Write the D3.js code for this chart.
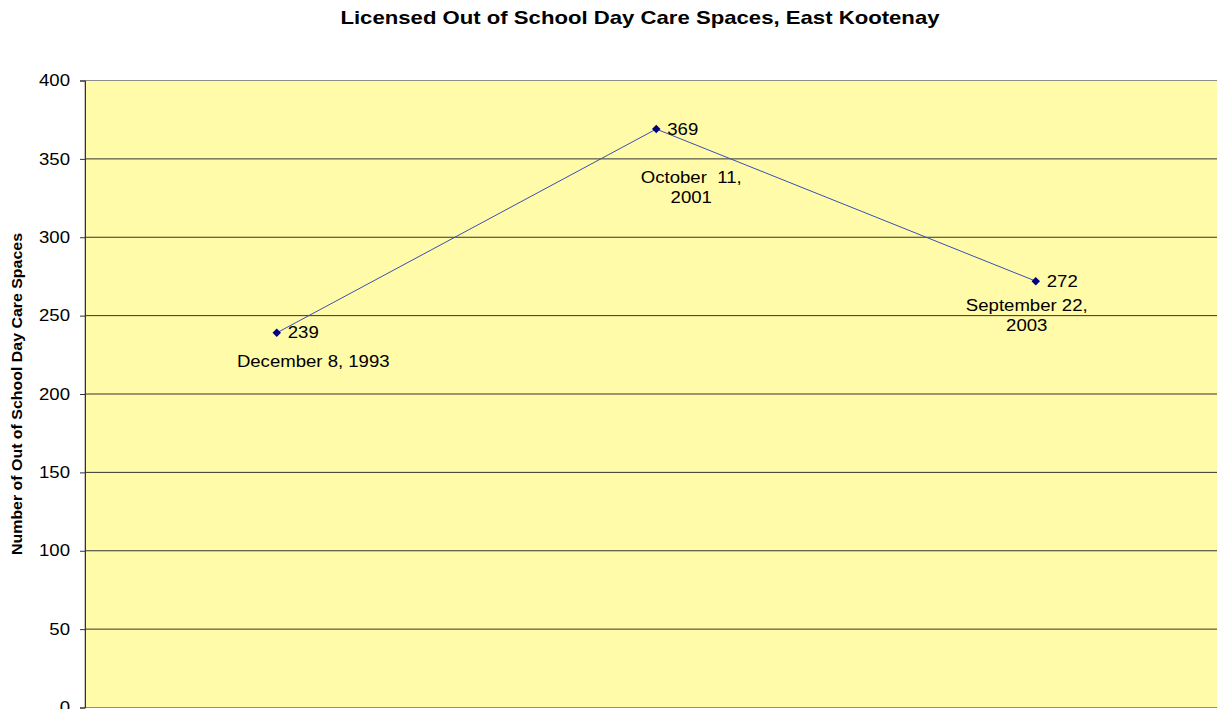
<!DOCTYPE html>
<html>
<head>
<meta charset="utf-8">
<script src="https://cdn.jsdelivr.net/npm/d3@7"></script>
<style>
  body { margin: 0; background: #fff; }
  svg { display: block; font-family: "Liberation Sans", Arial, sans-serif; }
</style>
</head>
<body>
<div id="chart"></div>
<script>
// chart data
const categories = ["December 8, 1993", "October  11, 2001", "September 22, 2003"];
const labelLines = [["December 8, 1993"], ["October  11,", "2001"], ["September 22,", "2003"]];
const spaces = [239, 369, 272];
const yTicks = [0, 50, 100, 150, 200, 250, 300, 350, 400];

// label placement relative to each point
const catDx = [36.5, 35, -9];
const catDy = [34, 54, 30];

const width = 1217, height = 709;
const plotLeft = 85, plotTop = 80.5, plotBottom = 707.5;

const svg = d3.select("#chart").append("svg")
  .attr("width", width).attr("height", height);

const x = d3.scalePoint().domain(categories)
  .range([87, 87 + 3 * 379.5]).padding(0.5);
const y = d3.scaleLinear().domain([0, 400])
  .range([plotBottom, plotTop]);

// text looks a bit wider in the original, stretch it horizontally
function stretch(sel, k) {
  sel.each(function () {
    const len = this.getComputedTextLength();
    d3.select(this).attr("textLength", len * k).attr("lengthAdjust", "spacingAndGlyphs");
  });
}

// plot background
svg.append("rect")
  .attr("x", plotLeft).attr("y", plotTop)
  .attr("width", width + 20 - plotLeft)
  .attr("height", plotBottom - plotTop)
  .attr("fill", "#fffba8")
  .attr("stroke", "#8c8c8c").attr("stroke-width", 1);

// gridlines
svg.append("g").selectAll("line")
  .data(yTicks.filter(d => d > 0 && d < 400))
  .join("line")
  .attr("x1", plotLeft).attr("x2", width)
  .attr("y1", d => y(d)).attr("y2", d => y(d))
  .attr("stroke", "#333").attr("stroke-width", 1);

// y axis
const yAxis = svg.append("g")
  .attr("transform", `translate(${plotLeft},0)`)
  .call(d3.axisLeft(y).tickValues(yTicks).tickSize(5).tickPadding(10));
yAxis.select(".domain").attr("stroke", "#333");
yAxis.selectAll(".tick line").attr("stroke", "#333");
yAxis.selectAll("text").style("font-size", "16px").attr("fill", "#000")
  .call(stretch, 1.16);

// line
const line = d3.line()
  .x((d, i) => x(categories[i]))
  .y(d => y(d));

svg.append("path")
  .datum(spaces)
  .attr("fill", "none")
  .attr("stroke", "#3a4fb0")
  .attr("stroke-width", 1)
  .attr("d", line);

// diamond markers
svg.append("g").selectAll("path")
  .data(spaces)
  .join("path")
  .attr("transform", (d, i) => `translate(${x(categories[i])},${y(d)}) rotate(45)`)
  .attr("d", d3.symbol().type(d3.symbolSquare).size(36))
  .attr("fill", "#000080");

// value labels
svg.append("g").selectAll("text")
  .data(spaces)
  .join("text")
  .attr("x", (d, i) => x(categories[i]) + 11)
  .attr("y", d => y(d) + 5.5)
  .style("font-size", "16px")
  .text(d => d)
  .call(stretch, 1.16);

// category labels under each point
const catLabels = svg.append("g").selectAll("text")
  .data(spaces)
  .join("text")
  .attr("text-anchor", "middle")
  .attr("x", (d, i) => x(categories[i]) + catDx[i])
  .attr("y", (d, i) => y(d) + catDy[i])
  .style("font-size", "16px")
  .style("white-space", "pre");
catLabels.selectAll("tspan")
  .data((d, i) => labelLines[i])
  .join("tspan")
  .attr("x", function () { return this.parentNode.getAttribute("x"); })
  .attr("dy", (d, j) => j === 0 ? 0 : 20)
  .text(d => d)
  .call(stretch, 1.16);

// title
svg.append("text")
  .attr("x", 640).attr("y", 24)
  .attr("text-anchor", "middle")
  .style("font-size", "19px")
  .style("font-weight", "bold")
  .text("Licensed Out of School Day Care Spaces, East Kootenay")
  .call(stretch, 1.165);

// y axis title
svg.append("text")
  .attr("transform", `translate(22,394) rotate(-90)`)
  .attr("text-anchor", "middle")
  .style("font-size", "14px")
  .style("font-weight", "bold")
  .attr("textLength", 322)
  .attr("lengthAdjust", "spacingAndGlyphs")
  .text("Number of Out of School Day Care Spaces");
</script>
</body>
</html>
